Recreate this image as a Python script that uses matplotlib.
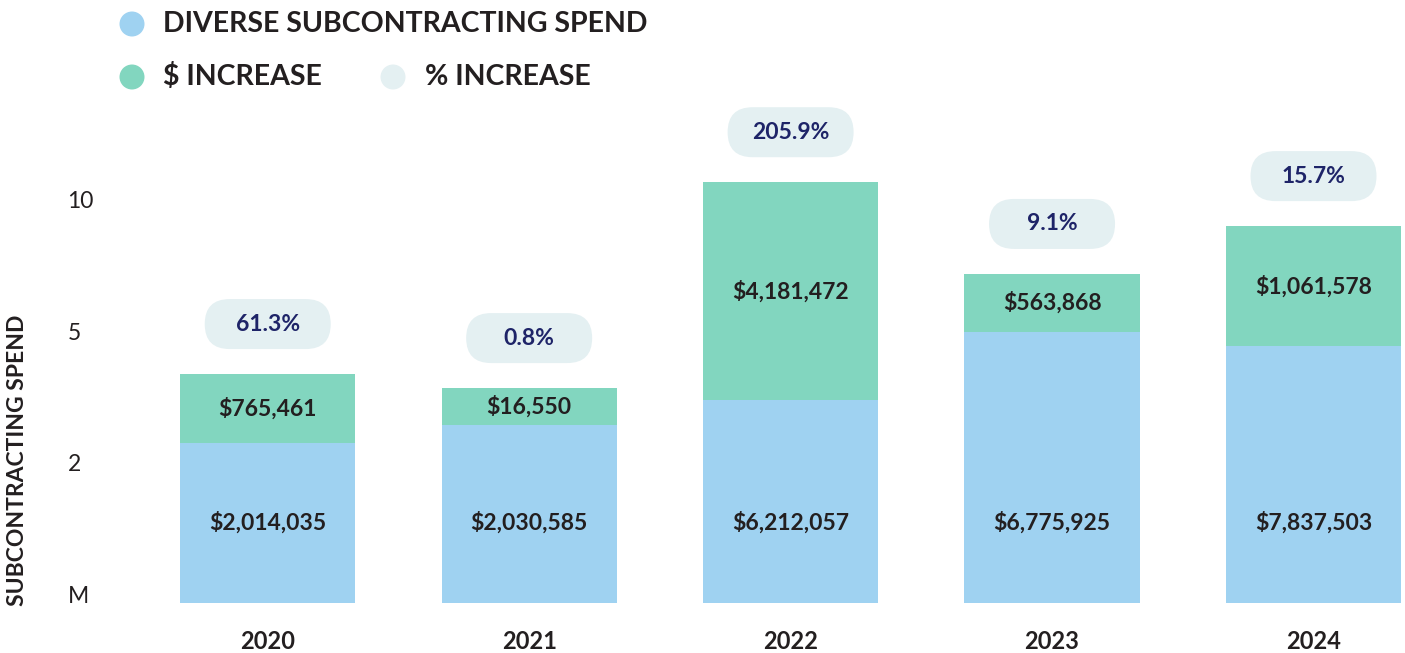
import numpy as np
import matplotlib
matplotlib.use("Agg")
import matplotlib.pyplot as plt
from matplotlib.patches import FancyBboxPatch, Ellipse
from matplotlib.transforms import ScaledTranslation

# ---------------- data ----------------
years = ["2020", "2021", "2022", "2023", "2024"]
spend = [2014035, 2030585, 6212057, 6775925, 7837503]
increase = [765461, 16550, 4181472, 563868, 1061578]
pct_increase = [61.3, 0.8, 205.9, 9.1, 15.7]
# bar heights as drawn against the chart's (irregular) y axis, in millions
spend_height = [2.64, 3.06, 3.63, 5.30, 4.86]
total_height = [4.22, 3.90, 11.0, 7.51, 9.33]
yticks = [0, 2, 5, 10]
ytick_labels = ["M", "2", "5", "10"]

# ---------------- style ----------------
BLUE = "#9FD2F1"
GREEN = "#82D6BF"
PILL = "#E4F0F2"
NAVY = "#1E2468"
DARK = "#231F20"
FONT = "Lato"

plt.rcParams["font.family"] = [FONT, "DejaVu Sans"]

W, H = 1405, 653
fig = plt.figure(figsize=(W / 100, H / 100), dpi=100)
fig.patch.set_facecolor("white")

base_px = 602.7
top_px = 60
ax = fig.add_axes([137 / W, (H - base_px) / H, (W - 137) / W, (base_px - top_px) / H])

knots_v = [0, 2, 5, 10, 20]
knots_u = [0, 1, 2, 3, 5]


def fwd(v):
    return np.interp(v, knots_v, knots_u)


def inv(u):
    return np.interp(u, knots_u, knots_v)


ax.set_yscale("function", functions=(fwd, inv))
ax.set_ylim(0, float(inv((base_px - top_px) / 131.4)))
ax.set_xlim(-0.5, 4.35)

x = np.arange(len(years))
inc_height = [t - s for t, s in zip(total_height, spend_height)]
bw = 0.67
ax.bar(x, spend_height, width=bw, color=BLUE, linewidth=0, zorder=2)
ax.bar(x, inc_height, width=bw, bottom=spend_height, color=GREEN, linewidth=0, zorder=2)

# value labels and percentage pills
for i in range(len(years)):
    ax.annotate(f"${spend[i]:,}", xy=(x[i], 0), xytext=(0, 80), textcoords="offset pixels",
                ha="center", va="center", fontsize=16.5, fontweight="bold", color=DARK,
                zorder=5)
    mid = float(inv((fwd(spend_height[i]) + fwd(total_height[i])) / 2))
    ax.annotate(f"${increase[i]:,}", xy=(x[i], mid), ha="center", va="center",
                fontsize=16.5, fontweight="bold", color=DARK, zorder=5)
    trans = fig.dpi_scale_trans + ScaledTranslation(x[i], total_height[i], ax.transData)
    pill = FancyBboxPatch((-0.63, 0.25), 1.26, 0.50,
                          boxstyle="round,pad=0,rounding_size=0.25",
                          transform=trans, facecolor=PILL, edgecolor="none", zorder=3)
    ax.add_artist(pill)
    ax.annotate(f"{pct_increase[i]}%", xy=(x[i], total_height[i]), xytext=(0, 50),
                textcoords="offset pixels", ha="center", va="center",
                fontsize=16.5, fontweight="bold", color=NAVY, zorder=6,
                annotation_clip=False)

# axes styling
for s in ax.spines.values():
    s.set_visible(False)
ax.set_xticks(x)
ax.set_xticklabels(years, fontsize=17, fontweight="bold", color=DARK)
ax.tick_params(axis="x", length=0, pad=20)
ax.set_yticks(yticks)
ax.set_yticklabels(ytick_labels, fontsize=16.5, color=DARK)
ax.yaxis.set_minor_locator(matplotlib.ticker.NullLocator())
ax.tick_params(axis="y", length=0, pad=50)
for lab in ax.get_yticklabels():
    lab.set_horizontalalignment("left")
    lab.set_verticalalignment("baseline")

fig.text(18 / W, (H - 460) / H, "SUBCONTRACTING SPEND", rotation=90, ha="center",
         va="center", fontsize=16.5, fontweight="bold", color=DARK)

# legend
legend_items = [("DIVERSE SUBCONTRACTING SPEND", BLUE, 132, 24, 163),
                ("$ INCREASE", GREEN, 132, 77, 163),
                ("% INCREASE", PILL, 393, 77, 425)]
for label, col, cx, cy, tx in legend_items:
    fig.add_artist(Ellipse((cx / W, (H - cy) / H), 25 / W, 25 / H,
                           transform=fig.transFigure, facecolor=col, edgecolor="none"))
    fig.text(tx / W, (H - cy) / H, label, ha="left", va="center", fontsize=20.5,
             fontweight="bold", color=DARK)

fig.savefig("out.png", dpi=100)
